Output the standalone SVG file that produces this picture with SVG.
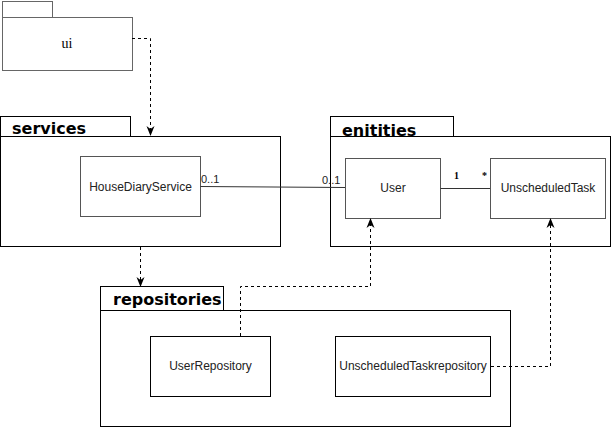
<svg xmlns="http://www.w3.org/2000/svg" width="611" height="427" viewBox="0 0 611 427">
<defs>
<style>
.pkg{fill:#fff;stroke:#000;stroke-width:1}
.pkgg{fill:#fff;stroke:#666;stroke-width:1}
.cls{fill:#fff;stroke:#555;stroke-width:1}
.plabel{font-family:"DejaVu Sans",sans-serif;font-weight:bold;font-size:16px;fill:#000}
.clabel{font-family:"Liberation Sans",Arial,sans-serif;font-size:12px;fill:#222;text-anchor:middle}
.mult{font-family:"Liberation Sans",Arial,sans-serif;font-size:11px;fill:#222}
.dep{fill:none;stroke:#000;stroke-width:1;stroke-dasharray:3 3}
.assoc{fill:none;stroke:#333;stroke-width:1}
</style>
<marker id="arr" viewBox="0 0 10 10" refX="9" refY="5" markerWidth="10" markerHeight="10" markerUnits="userSpaceOnUse" orient="auto">
<path d="M0,1 L10,5 L0,9 L3,5 Z" fill="#000"/>
</marker>
</defs>
<g id="ui">
<rect class="pkgg" x="2.5" y="1.5" width="50" height="16"/>
<rect class="pkgg" x="2.5" y="17.5" width="130" height="53"/>
<text x="67" y="48" text-anchor="middle" font-family="Liberation Serif,serif" font-size="14">ui</text>
</g>
<g id="services">
<rect class="pkg" x="0.5" y="116.5" width="130" height="20"/>
<rect class="pkg" x="0.5" y="136.5" width="280" height="110"/>
<text class="plabel" x="12" y="134">services</text>
</g>
<g id="HouseDiaryService">
<rect class="cls" x="80.5" y="156.5" width="120" height="60"/>
<text class="clabel" x="140.5" y="191">HouseDiaryService</text>
</g>
<g id="enitities">
<rect class="pkg" x="330.5" y="116.5" width="123" height="20"/>
<rect class="pkg" x="330.5" y="136.5" width="280" height="110"/>
<text class="plabel" x="342" y="136">enitities</text>
</g>
<g id="User">
<rect class="cls" x="345.5" y="158.5" width="95" height="60"/>
<text class="clabel" x="393" y="192">User</text>
</g>
<g id="UnscheduledTask">
<rect class="cls" x="490.5" y="158.5" width="115" height="60"/>
<text class="clabel" x="548" y="192">UnscheduledTask</text>
</g>
<g id="repositories">
<rect class="pkg" x="100.5" y="286.5" width="123" height="24"/>
<rect class="pkg" x="100.5" y="310.5" width="410" height="116"/>
<text class="plabel" x="113" y="305">repositories</text>
</g>
<g id="UserRepository">
<rect class="pkg" x="150.5" y="336.5" width="120" height="60"/>
<text class="clabel" x="210.5" y="370">UserRepository</text>
</g>
<g id="UnscheduledTaskrepository">
<rect class="pkg" x="335.5" y="336.5" width="155" height="60"/>
<text class="clabel" x="413" y="370">UnscheduledTaskrepository</text>
</g>
<g id="connectors">
<path class="dep" d="M132,38.5 H150.5 V135" marker-end="url(#arr)"/>
<path class="dep" d="M140.5,247 V286" marker-end="url(#arr)"/>
<path class="dep" d="M240.5,336 V286.5 H370.5 V219" marker-end="url(#arr)"/>
<path class="dep" d="M491,366.5 H550.5 V219" marker-end="url(#arr)"/>
<path class="assoc" d="M200.5,186.5 L345,187.5"/>
<path class="assoc" d="M440.5,188.5 H490"/>
<text class="mult" x="201" y="183">0..1</text>
<text class="mult" x="322" y="184">0..1</text>
<text x="454" y="179" font-family="Liberation Serif,serif" font-weight="bold" font-size="10">1</text>
<text x="482" y="179" font-family="Liberation Serif,serif" font-weight="bold" font-size="10">*</text>
</g>
</svg>
